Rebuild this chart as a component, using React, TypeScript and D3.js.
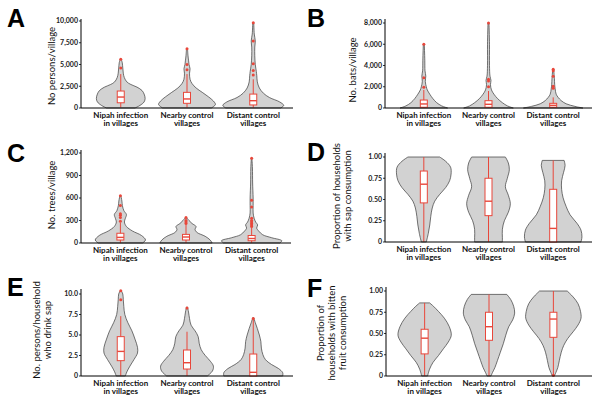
import React from "react";
import * as d3 from "d3";

// group names, drawn in two lines under each axis
const groupLines = [
  ["Nipah infection", "in villages"],
  ["Nearby control", "villages"],
  ["Distant control", "villages"],
];

// violin profiles: [value, relative density]
const personsDensity = [
  [[0, 14], [300, 19], [700, 23], [1100, 24], [1600, 23], [2000, 21], [2400, 16], [2700, 10], [3000, 6], [3500, 3.5], [4000, 2.5], [4600, 2], [5200, 1.5], [5600, 0.5]],
  [[0, 24], [400, 28], [800, 26], [1300, 21], [1800, 15], [2300, 9], [2800, 5], [3300, 3], [4000, 2.5], [4500, 3], [5000, 2], [5500, 1.5], [6000, 1], [6800, 0.5]],
  [[0, 27], [300, 30], [700, 26], [1200, 16], [1700, 10], [2300, 6], [3000, 4], [3700, 3.5], [4200, 3], [5000, 2], [6000, 1.5], [7000, 1.5], [7700, 2], [8500, 1], [9800, 0.5]],
];
const personsBox = [
  { lo: 60, q1: 600, med: 1260, q3: 1950, hi: 3900 },
  { lo: 50, q1: 540, med: 1040, q3: 1800, hi: 3900 },
  { lo: 30, q1: 350, med: 840, q3: 1600, hi: 3300 },
];
const personsOutliers = [[4600, 5600], [4400, 5000, 6800], [3800, 4300, 5100, 7700, 9800]];
const personsTicks = [0, 2500, 5000, 7500, 10000];

const batsDensity = [
  [[0, 24], [200, 18], [500, 13], [900, 9], [1300, 6], [1700, 3.5], [2000, 2.5], [2500, 1.5], [3000, 2], [3500, 1.2], [4500, 1], [6000, 0.5]],
  [[0, 25], [200, 19], [500, 14], [900, 9], [1300, 5.5], [1700, 3], [2200, 2], [2600, 2.5], [3000, 1.5], [4000, 1], [6000, 1], [8000, 0.5]],
  [[0, 30], [150, 22], [400, 13], [700, 8], [1000, 5], [1300, 3], [1800, 2], [2200, 1.5], [2800, 1.2], [3600, 0.5]],
];
const batsBox = [
  { lo: 0, q1: 70, med: 380, q3: 750, hi: 1700 },
  { lo: 0, q1: 70, med: 350, q3: 690, hi: 1600 },
  { lo: 0, q1: 70, med: 250, q3: 440, hi: 1000 },
];
const batsOutliers = [[1950, 2850, 6000], [2000, 2550, 2700, 8000], [1850, 2050, 3000, 3500, 3650]];
const batsTicks = [0, 2000, 4000, 6000, 8000];

const treesDensity = [
  [[0, 22], [40, 25], [100, 21], [160, 12], [220, 6], [280, 4], [330, 5], [380, 6], [430, 3.5], [500, 2], [560, 1.5], [630, 0.5]],
  [[0, 26], [40, 24], [90, 19], [140, 11], [180, 9], [220, 10], [260, 6], [300, 3], [340, 0.5]],
  [[0, 28], [30, 30], [70, 20], [110, 11], [160, 7], [200, 5], [240, 6], [280, 4], [330, 2.5], [400, 1.5], [500, 1.5], [600, 1.5], [800, 1], [1000, 0.8], [1130, 0.3]],
];
const treesBox = [
  { lo: 0, q1: 40, med: 75, q3: 130, hi: 270 },
  { lo: 0, q1: 40, med: 80, q3: 115, hi: 240 },
  { lo: 0, q1: 30, med: 60, q3: 100, hi: 200 },
];
const treesOutliers = [[290, 340, 370, 390, 500, 630], [260, 280, 300, 340], [220, 240, 260, 280, 300, 330, 480, 570, 1130]];
const treesTicks = [0, 300, 600, 900, 1200];

const sapDensity = [
  [[0, 2.5], [0.1, 4.5], [0.2, 6], [0.3, 7], [0.4, 8.5], [0.48, 11], [0.56, 16], [0.64, 22], [0.72, 26], [0.8, 27.5], [0.88, 27], [0.95, 22], [1, 16]],
  [[0, 14], [0.05, 14], [0.15, 14], [0.25, 16], [0.35, 20], [0.45, 22], [0.55, 20], [0.65, 17], [0.75, 19], [0.85, 21], [0.93, 20], [1, 17]],
  [[0, 28], [0.06, 29], [0.14, 28], [0.22, 24], [0.32, 17], [0.42, 13], [0.52, 10], [0.62, 8.5], [0.72, 8.5], [0.82, 10.5], [0.9, 12], [0.96, 11]],
];
const sapBox = [
  { lo: 0, q1: 0.46, med: 0.68, q3: 0.835, hi: 1 },
  { lo: 0, q1: 0.31, med: 0.48, q3: 0.75, hi: 1 },
  { lo: 0, q1: 0, med: 0.16, q3: 0.62, hi: 0.96 },
];
const sapOutliers = [[], [], []];
const propTicks = [0, 0.25, 0.5, 0.75, 1];

const drinkDensity = [
  [[0, 4.5], [0.5, 6], [1.2, 9], [2, 13], [2.8, 16.5], [3.5, 16.5], [4.5, 14], [5.5, 11], [6.5, 7], [7.5, 4], [8.5, 3], [9.3, 2.5], [10, 2], [10.4, 0.5]],
  [[0, 20], [0.6, 25], [1.2, 26], [1.8, 23], [2.5, 18], [3.2, 14], [4, 12], [4.8, 11], [5.5, 8], [6.2, 4], [7, 2.5], [7.8, 1.5], [8.4, 0.5]],
  [[0, 29], [0.4, 29], [0.9, 25], [1.4, 18], [2, 12], [2.6, 9.5], [3.4, 8], [4.2, 7.5], [5, 6], [5.8, 4], [6.5, 2], [7.1, 0.5]],
];
const drinkBox = [
  { lo: 0, q1: 1.87, med: 3.0, q3: 4.8, hi: 7.3 },
  { lo: 0, q1: 0.85, med: 1.62, q3: 3.17, hi: 5.4 },
  { lo: 0, q1: 0, med: 0.45, q3: 2.68, hi: 7.0 },
];
const drinkOutliers = [[9.3, 10.4], [8.3], [7.0]];
const drinkTicks = [0, 2.5, 5, 7.5, 10];

const fruitDensity = [
  [[0, 3], [0.08, 5], [0.16, 8.5], [0.24, 14], [0.32, 19], [0.4, 24], [0.48, 27], [0.58, 25], [0.68, 20], [0.76, 14], [0.82, 9], [0.86, 5]],
  [[0, 2], [0.04, 3.5], [0.1, 6], [0.18, 8.5], [0.28, 11.5], [0.38, 14.5], [0.48, 17], [0.58, 20], [0.66, 24], [0.74, 26], [0.82, 25], [0.9, 22], [0.96, 18]],
  [[0, 1], [0.04, 2.5], [0.1, 4.5], [0.18, 6], [0.28, 8], [0.36, 10.5], [0.44, 14.5], [0.52, 20], [0.6, 25], [0.68, 28], [0.76, 27.5], [0.85, 25], [0.93, 20], [1, 14]],
];
const fruitBox = [
  { lo: 0, q1: 0.26, med: 0.445, q3: 0.55, hi: 0.86 },
  { lo: 0, q1: 0.42, med: 0.58, q3: 0.75, hi: 0.96 },
  { lo: 0.01, q1: 0.455, med: 0.67, q3: 0.75, hi: 1 },
];
const fruitOutliers = [[], [], [0.01]];

const RED = "#e8473b";
const FONT = "Lato, 'Open Sans', sans-serif";

const fmtComma = d3.format(",");
const fmt2 = (d) => (d === 0 ? "0" : d3.format(".2f")(d));
const fmt1 = (d) => (d === 0 ? "0" : d3.format(".1f")(d));

// layout of the six panels
const panels = [
  { letter: "A", lx: 7, ly: 27, x0: 81, x1: 293, yb: 108, yt: 21, ytop: 19, title: ["No persons/village"], tx: 55, ty: 66, density: personsDensity, box: personsBox, out: personsOutliers, ticks: personsTicks, fmt: fmtComma },
  { letter: "B", lx: 307, ly: 27, x0: 385, x1: 592, yb: 108, yt: 23, ytop: 19, title: ["No. bats/village"], tx: 356, ty: 70, density: batsDensity, box: batsBox, out: batsOutliers, ticks: batsTicks, fmt: fmtComma },
  { letter: "C", lx: 7, ly: 162, x0: 81, x1: 291, yb: 243, yt: 153, ytop: 150, title: ["No. trees/village"], tx: 55, ty: 195, density: treesDensity, box: treesBox, out: treesOutliers, ticks: treesTicks, fmt: fmtComma },
  { letter: "D", lx: 307, ly: 161, x0: 385, x1: 592, yb: 242, yt: 157, ytop: 153, title: ["Proportion of households", "with sap consumption"], tx: 345, ty: 196, density: sapDensity, box: sapBox, out: sapOutliers, ticks: propTicks, fmt: fmt2 },
  { letter: "E", lx: 7, ly: 296, x0: 81, x1: 293, yb: 376, yt: 294, ytop: 289, title: ["No. persons/household", "who drink sap"], tx: 45, ty: 330, density: drinkDensity, box: drinkBox, out: drinkOutliers, ticks: drinkTicks, fmt: fmt1 },
  { letter: "F", lx: 307, ly: 297, x0: 386, x1: 592, yb: 376, yt: 291, ytop: 287, title: ["Proportion of", "households with bitten", "fruit consumption"], tx: 335, ty: 333, density: fruitDensity, box: fruitBox, out: fruitOutliers, ticks: propTicks, fmt: fmt2 },
];

function Panel({ p }) {
  const x = d3.scalePoint().domain([0, 1, 2]).range([p.x0, p.x1]).padding(0.6);
  const y = d3.scaleLinear().domain([0, p.ticks[p.ticks.length - 1]]).range([p.yb, p.yt]);
  const w = d3.scaleLinear().domain([0, 30]).range([0, (x.step() / 2) * 0.92]);
  const boxW = 7;

  return (
    <g>
      <text x={p.lx} y={p.ly} fontFamily="'Liberation Sans', Arial, sans-serif" fontWeight="bold" fontSize={25}>{p.letter}</text>
      <text transform={`translate(${p.tx},${p.ty}) rotate(-90)`} textAnchor="middle" fontFamily={FONT} fontSize={9.5} fill="#111">
        {p.title.map((t, i) => (
          <tspan key={i} x={0} dy={i === 0 ? -(p.title.length - 1) * 5.5 : 11}>{t}</tspan>
        ))}
      </text>
      {p.density.map((prof, i) => {
        const cx = x(i);
        const area = d3.area()
          .y((d) => y(d[0]))
          .x0((d) => cx - w(d[1]))
          .x1((d) => cx + w(d[1]))
          .curve(d3.curveCatmullRom.alpha(0.5));
        const b = p.box[i];
        return (
          <g key={i}>
            <path d={area(prof)} fill="#d2d2d2" stroke="#3a3a3a" strokeWidth={0.7} />
            <line x1={cx} x2={cx} y1={y(b.lo)} y2={y(b.hi)} stroke={RED} strokeWidth={1} />
            <rect x={cx - boxW / 2} y={y(b.q3)} width={boxW} height={Math.max(0.5, y(b.q1) - y(b.q3))} fill="#fff" stroke={RED} strokeWidth={1} />
            <line x1={cx - boxW / 2} x2={cx + boxW / 2} y1={y(b.med)} y2={y(b.med)} stroke={RED} strokeWidth={1.4} />
            {p.out[i].map((o, j) => (
              <circle key={j} cx={cx} cy={y(o)} r={1.5} fill={RED} />
            ))}
          </g>
        );
      })}
      <line x1={p.x0} x2={p.x0} y1={p.ytop} y2={p.yb} stroke="#000" strokeWidth={1} />
      <line x1={p.x0} x2={p.x1} y1={p.yb} y2={p.yb} stroke="#000" strokeWidth={1} />
      {p.ticks.map((t) => (
        <g key={t}>
          <line x1={p.x0 - 2} x2={p.x0} y1={y(t)} y2={y(t)} stroke="#000" strokeWidth={0.8} />
          <text x={p.x0 - 3} y={y(t)} dy="0.34em" textAnchor="end" fontFamily={FONT} fontSize={7} fontWeight="bold" fill="#222">{p.fmt(t)}</text>
        </g>
      ))}
      {groupLines.map((lines, i) => (
        <g key={i}>
          {lines.map((l, j) => (
            <text key={j} x={x(i)} y={p.yb + 9.5 + j * 8.5} textAnchor="middle" fontFamily={FONT} fontSize={8} fontWeight="bold" fill="#111">{l}</text>
          ))}
        </g>
      ))}
    </g>
  );
}

export default function App() {
  return (
    <svg width={600} height={406} style={{ position: "absolute", left: 0, top: 0, background: "#fff" }}>
      <rect width={600} height={406} fill="#fff" />
      {panels.map((p) => (
        <Panel key={p.letter} p={p} />
      ))}
    </svg>
  );
}
